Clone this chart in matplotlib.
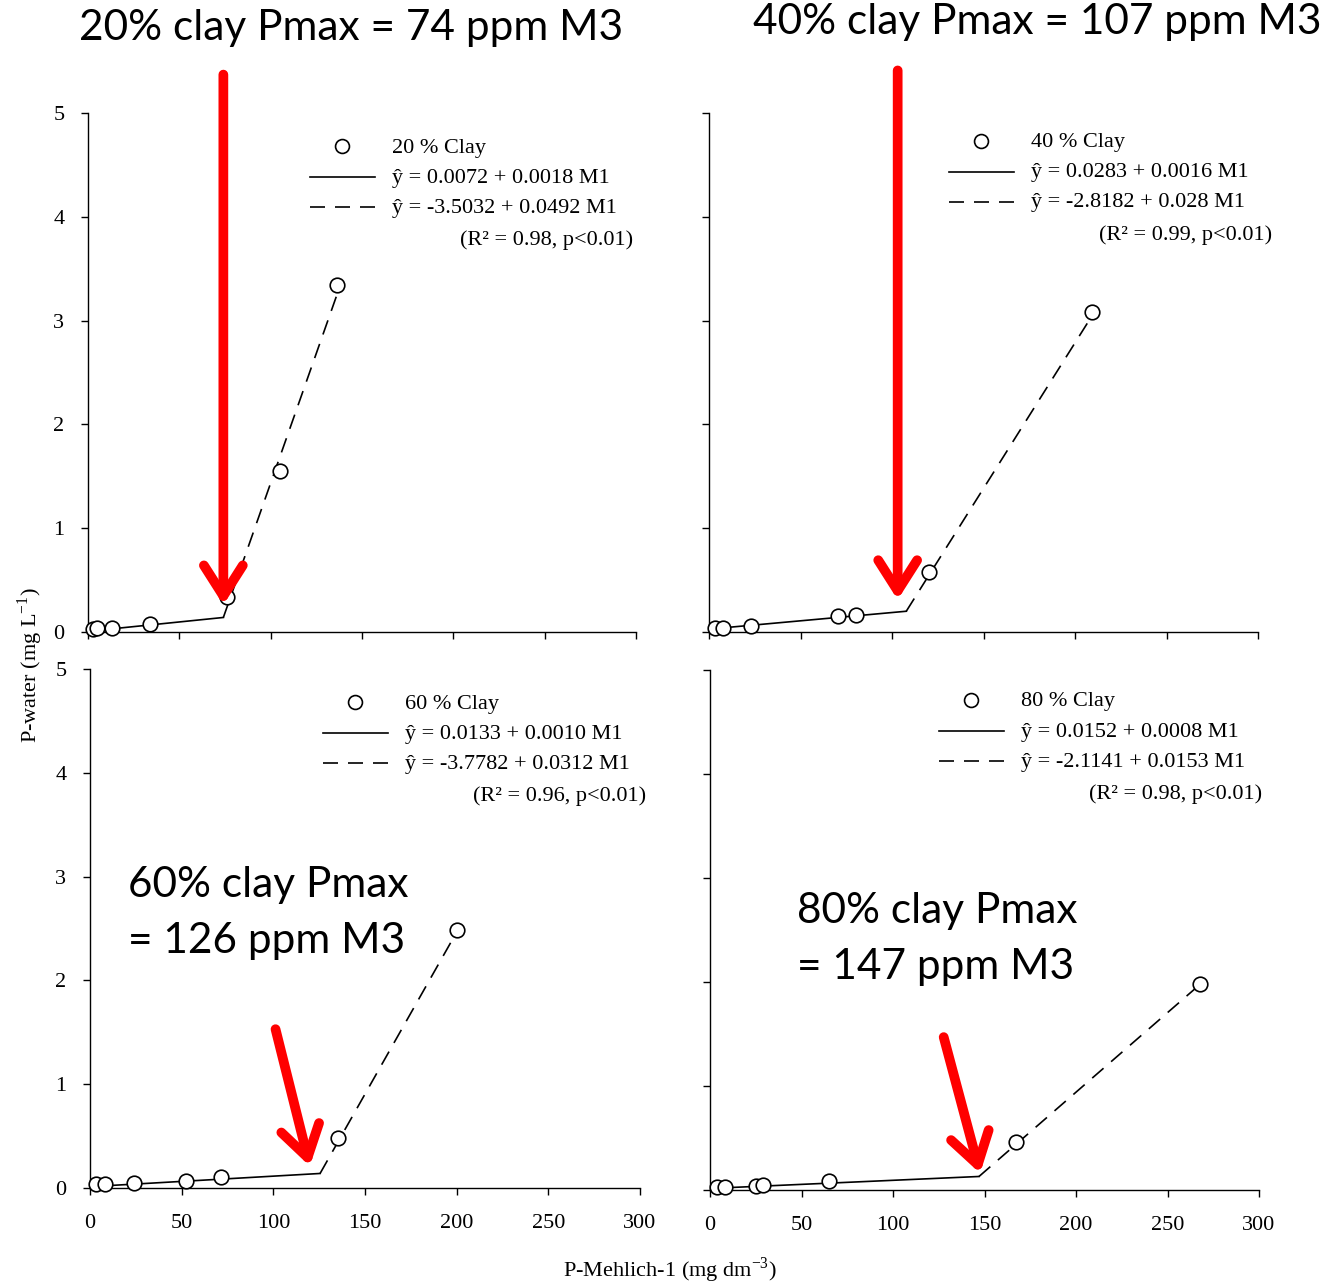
import matplotlib
matplotlib.use('Agg')
import matplotlib.pyplot as plt
from matplotlib.lines import Line2D

plt.rcParams['font.family'] = ['Liberation Serif', 'DejaVu Serif']
plt.rcParams['mathtext.fontset'] = 'custom'
plt.rcParams['mathtext.rm'] = 'Liberation Serif'

W, H = 1339, 1285

# ---------------- data ----------------
clay_labels = ['20 % Clay', '40 % Clay', '60 % Clay', '80 % Clay']

x20 = [2.5, 4.8, 13.3, 34.0, 76.0, 105.1, 136.3]
y20 = [0.03, 0.04, 0.04, 0.08, 0.34, 1.55, 3.34]
x40 = [3.2, 7.8, 22.9, 70.6, 80.2, 120.3, 209.5]
y40 = [0.04, 0.04, 0.06, 0.15, 0.16, 0.58, 3.08]
x60 = [3.5, 8.2, 24.0, 52.6, 71.5, 135.3, 200.3]
y60 = [0.04, 0.04, 0.05, 0.07, 0.11, 0.48, 2.49]
x80 = [3.9, 8.0, 25.2, 29.1, 65.1, 167.1, 267.5]
y80 = [0.03, 0.03, 0.04, 0.05, 0.09, 0.46, 1.98]

# fitted segments (start / break / end)
solid_x = [[0, 74.1], [0, 107.8], [0, 125.5], [0, 147.0]]
solid_y = [[0.007, 0.14], [0.028, 0.20], [0.013, 0.14], [0.015, 0.13]]
dash_x = [[74.1, 136.3], [107.8, 208.0], [125.5, 199.5], [147.0, 266.0]]
dash_y = [[0.14, 3.25], [0.20, 3.01], [0.14, 2.45], [0.13, 1.95]]

eq_solid = ['ŷ = 0.0072 + 0.0018 M1', 'ŷ = 0.0283 + 0.0016 M1',
            'ŷ = 0.0133 + 0.0010 M1', 'ŷ = 0.0152 + 0.0008 M1']
eq_dash = ['ŷ = -3.5032 + 0.0492 M1', 'ŷ = -2.8182 + 0.028 M1',
           'ŷ = -3.7782 + 0.0312 M1', 'ŷ = -2.1141 + 0.0153 M1']
fit_stats = ['(R² = 0.98, p<0.01)', '(R² = 0.99, p<0.01)',
             '(R² = 0.96, p<0.01)', '(R² = 0.98, p<0.01)']

xticks = [0, 50, 100, 150, 200, 250, 300]
yticks = [0, 1, 2, 3, 4, 5]

# red arrows (tail -> tip, data units of each panel)
arrow_tail = [(74.1, 5.37), (103.1, 5.41), (101.2, 1.53), (127.7, 1.47)]
arrow_tip = [(74.1, 0.26), (103.1, 0.31), (119.9, 0.21), (147.6, 0.16)]

# ---------------- layout ----------------
def px(x, y):
    return x / W, 1 - y / H

# axes boxes in image pixels: left, top, right, bottom
boxes = [(88, 113, 636, 632), (709, 113, 1258, 632),
         (90, 669, 640, 1188), (710, 670, 1259, 1190)]
# legend marker centres in image pixels
key_pos = [(342, 146), (981, 141), (355, 702), (971, 700)]

fig = plt.figure(figsize=(W / 100, H / 100), dpi=100)

xs = [x20, x40, x60, x80]
ys = [y20, y40, y60, y80]

for i in range(4):
    l, t, r, b = boxes[i]
    ax = fig.add_axes([l / W, 1 - b / H, (r - l) / W, (b - t) / H])
    ax.plot(solid_x[i], solid_y[i], color='black', lw=1.2, zorder=2)
    ax.plot(dash_x[i], dash_y[i], color='black', lw=1.2, dashes=(9, 6), zorder=2)
    ax.plot(xs[i], ys[i], 'o', mfc='white', mec='black', mew=1.2, ms=10.5,
            zorder=3, clip_on=False)

    ax.set_xlim(0, 300)
    ax.set_ylim(0, 5)
    ax.set_xticks(xticks)
    ax.set_yticks(yticks)
    for s in ['top', 'right']:
        ax.spines[s].set_visible(False)
    for s in ['left', 'bottom']:
        ax.spines[s].set_linewidth(1.0)
    ax.tick_params(direction='out', length=5, width=1.0, labelsize=16)
    ax.tick_params(axis='x', pad=14)
    ax.tick_params(axis='y', pad=12)
    if i < 2:
        ax.set_xticklabels([])
    if i % 2 == 1:
        ax.set_yticklabels([])

    ax.annotate('', xy=arrow_tip[i], xytext=arrow_tail[i],
                arrowprops=dict(arrowstyle='->,head_length=1.1,head_width=0.7',
                                lw=7, color='#ff0000', shrinkA=0, shrinkB=0,
                                mutation_scale=20, clip_on=False),
                annotation_clip=False, zorder=5)

    # hand-built key
    kx, ky = key_pos[i]
    fig.add_artist(Line2D([kx / W], [1 - ky / H], marker='o', mfc='white',
                          mec='black', mew=1.2, ms=10, ls='none'))
    fig.text(*px(kx + 50, ky + 2), clay_labels[i], fontsize=16, va='center')
    fig.add_artist(Line2D([(kx - 32) / W, (kx + 33) / W],
                          [1 - (ky + 31) / H] * 2, color='black', lw=1.2))
    fig.text(*px(kx + 50, ky + 32), eq_solid[i], fontsize=16, va='center')
    fig.add_artist(Line2D([(kx - 32) / W, (kx + 33) / W],
                          [1 - (ky + 61) / H] * 2, color='black', lw=1.2,
                          dashes=(9, 6)))
    fig.text(*px(kx + 50, ky + 62), eq_dash[i], fontsize=16, va='center')
    fig.text(*px(kx + 291, ky + 94), fit_stats[i], fontsize=16, va='center', ha='right')

# axis labels
fig.text(*px(30, 665), r'P-water (mg L$^{-1}$)', rotation=90, fontsize=16,
         ha='center', va='center')
fig.text(*px(670, 1270), r'P-Mehlich-1 (mg dm$^{-3}$)', fontsize=16,
         ha='center', va='center')

# Pmax call-outs
sans = ['Lato', 'DejaVu Sans']
fig.text(*px(351, 28), '20% clay Pmax = 74 ppm M3', family=sans, fontsize=30.5,
         ha='center', va='center')
fig.text(*px(1037, 22), '40% clay Pmax = 107 ppm M3', family=sans, fontsize=30.5,
         ha='center', va='center')
fig.text(*px(128, 913), '60% clay Pmax\n= 126 ppm M3', family=sans, fontsize=30.5,
         ha='left', va='center', linespacing=1.55)
fig.text(*px(797, 939), '80% clay Pmax\n= 147 ppm M3', family=sans, fontsize=30.5,
         ha='left', va='center', linespacing=1.55)

fig.savefig('out.png', dpi=100, facecolor='white')
